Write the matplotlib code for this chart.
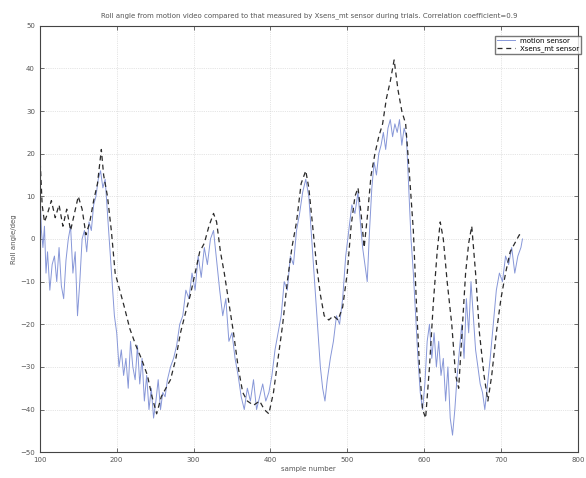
import numpy as np
import matplotlib
matplotlib.use("Agg")
import matplotlib.pyplot as plt

# Sensor (dashed) trace: sample number / roll angle in degrees
sensor_x = [100, 103, 106, 110, 115, 120, 125, 130, 135, 140, 145, 150, 155, 160, 165,
            170, 175, 180, 183, 188, 193, 198, 204, 210, 217, 225, 232, 240, 246, 252,
            258, 264, 270, 277, 283, 290, 296, 302, 308, 314, 320, 326, 330, 335, 340,
            346, 352, 358, 364, 370, 378, 386, 392, 398, 404, 410, 416, 422, 428, 434,
            440, 446, 450, 455, 460, 465, 470, 476, 482, 488, 494, 500, 505, 510, 514,
            518, 522, 526, 531, 536, 541, 546, 551, 556, 561, 566, 571, 576, 581, 586,
            590, 594, 598, 602, 607, 612, 617, 621, 625, 630, 636, 641, 645, 650, 654,
            658, 662, 667, 672, 678, 683, 688, 694, 700, 706, 712, 718, 724, 728]
sensor_y = [20, 8, 4, 6, 9, 5, 8, 3, 7, 2, 6, 10, 7, 1, 4,
            9, 13, 21, 15, 10, 2, -8, -12, -16, -21, -25, -28, -32, -37, -41,
            -37, -35, -33, -28, -22, -17, -13, -8, -3, -1, 3, 6, 4, -3, -8,
            -15, -22, -30, -36, -38, -39, -38, -40, -41, -36, -28, -20, -10, -2, 4,
            13, 16, 12, 3, -6, -13, -18, -19, -18, -19, -16, -8, 3, 10, 12,
            6, -2, 5, 15, 20, 24, 27, 33, 37, 42, 35, 30, 27, 15, 2,
            -15, -30, -40, -42, -30, -15, -3, 4, 0, -10, -20, -32, -35, -20, -8,
            -1, 3, -8, -22, -32, -38, -32, -22, -14, -8, -3, -1, 1, 1]

# Motion video (solid) trace
video_x = [100, 102, 104, 106, 108, 110, 113, 116, 119, 122, 125, 128, 131, 134, 137,
           140, 143, 146, 149, 152, 155, 158, 161, 164, 167, 170, 173, 176, 179, 182,
           185, 188, 191, 194, 197, 200, 203, 206, 209, 212, 215, 218, 221, 224, 227,
           230, 233, 236, 239, 242, 245, 248, 251, 254, 257, 260, 263, 266, 270, 274,
           278, 282, 286, 290, 294, 298, 302, 306, 310, 314, 318, 322, 326, 330, 334,
           338, 342, 346, 350, 354, 358, 362, 366, 370, 374, 378, 382, 386, 390, 394,
           398, 402, 406, 410, 414, 418, 422, 426, 430, 434, 438, 442, 446, 450, 453,
           456, 459, 462, 465, 468, 471, 474, 478, 482, 486, 490, 494, 498, 502, 506,
           510, 514, 517, 520, 523, 526, 529, 532, 535, 538, 541, 544, 547, 550, 553,
           556, 559, 562, 565, 568, 571, 574, 577, 580, 583, 586, 589, 592, 595, 598,
           601, 604, 607, 610, 613, 616, 619, 622, 625, 628, 631, 634, 637, 640, 643,
           646, 649, 652, 655, 658, 661, 664, 667, 670, 673, 676, 679, 682, 686, 690,
           694, 698, 702, 706, 710, 714, 718, 722, 726, 728]
video_y = [12, 2, -2, 3, -8, -3, -12, -6, -4, -10, -2, -11, -14, -5, 0,
           3, -8, -3, -18, -10, 0, 2, -3, 4, 2, 8, 10, 14, 16, 12,
           14, 6, -2, -10, -18, -22, -30, -26, -32, -28, -35, -24, -30, -33, -25,
           -34, -28, -38, -32, -40, -35, -42, -38, -33, -40, -36, -37, -33, -30, -28,
           -25, -20, -18, -12, -14, -8, -12, -4, -9, -2, -6, 0, 2, -5, -12,
           -18, -14, -24, -22, -28, -32, -37, -40, -35, -38, -33, -40, -37, -34, -38,
           -36, -32, -26, -22, -18, -10, -12, -4, -6, 2, 6, 11, 14, 10, 2,
           -6, -14, -22, -30, -35, -38, -33, -28, -24, -18, -20, -14, -4, 2, 8,
           6, 11, 4, -2, -6, -10, 2, 12, 18, 15, 20, 22, 25, 21, 26,
           28, 24, 27, 25, 28, 22, 26, 24, 12, 0, -8, -18, -28, -36, -40,
           -34, -24, -20, -28, -22, -30, -24, -32, -28, -38, -30, -42, -46, -40, -32,
           -26, -20, -28, -14, -22, -10, -18, -26, -30, -34, -36, -40, -35, -28, -20,
           -12, -8, -10, -4, -6, -2, -8, -4, -2, 0]

title = ("Roll angle from motion video compared to that measured by Xsens_mt sensor "
         "during trials. Correlation coefficient=0.9")

fig = plt.figure(figsize=(5.86, 4.78), dpi=100)
ax = fig.add_axes([0.068, 0.054, 0.918, 0.892])

ax.plot(video_x, video_y, color='#8797d8', linewidth=0.7, label='motion sensor')
ax.plot(sensor_x, sensor_y, color='#2a2a2a', linewidth=0.9, linestyle=(0, (4, 3)),
        label='Xsens_mt sensor')

ax.set_xlim(100, 800)
ax.set_ylim(-50, 50)
ax.set_xticks(np.arange(100, 801, 100))
ax.set_yticks(np.arange(-50, 51, 10))
ax.tick_params(direction='in', top=True, right=True, labelsize=5, colors='#555555',
               length=3, width=0.6)
ax.grid(True, color='#cccccc', linestyle=':', linewidth=0.5)
for s in ax.spines.values():
    s.set_color('#444444')
    s.set_linewidth(0.8)

ax.set_title(title, fontsize=5, color='#555555', pad=6)
ax.set_xlabel('sample number', fontsize=5, color='#555555', labelpad=2)
ax.set_ylabel('Roll angle/deg', fontsize=5, color='#555555', labelpad=2)

ax.legend(loc='upper left', bbox_to_anchor=(0.84, 0.985), fontsize=5,
          frameon=True, fancybox=False, edgecolor='#555555', handlelength=2.5,
          borderpad=0.3, labelspacing=0.2)

fig.savefig('out.png', dpi=100)
